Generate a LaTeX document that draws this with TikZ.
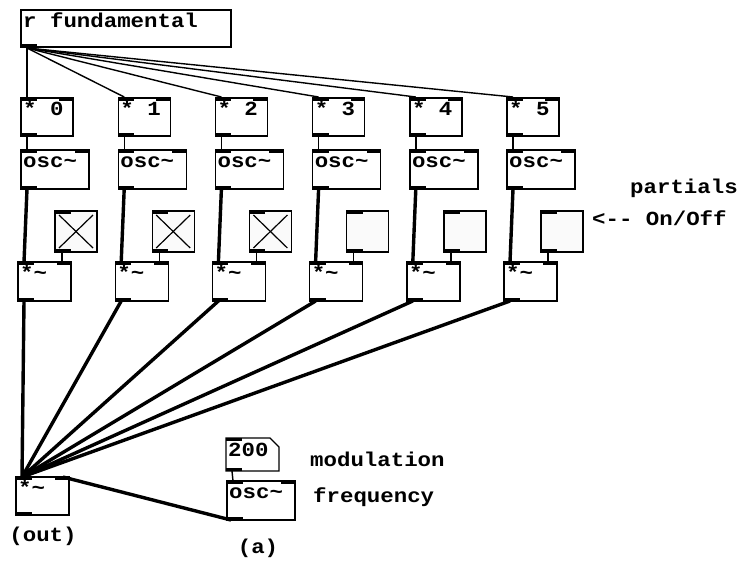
\documentclass[tikz,border=0pt]{standalone}
\usepackage{fontspec}
\newfontfamily\pdfont{Liberation Mono}[FakeStretch=1.12]
\tikzset{
  box/.style={draw, line width=1.4pt, anchor=north west, inner sep=0pt, outer sep=0pt},
  tog/.style={box, fill=black!2},
  txt/.style={anchor=base west, inner sep=0pt, font=\pdfont\bfseries\fontsize{20}{20}\selectfont},
  ctl/.style={line width=1.4pt},
  sig/.style={line width=3.4pt},
}
\newcommand\pdbox[5]{\node[box, minimum width=#4pt, minimum height=#5pt] (#1) at (#2,#3) {};}
\newcommand\pdtext[2]{\node[txt] (#1t) at ([shift={(2,17.5)}]#1.north west) {#2};}
\newcommand\inl[1]{\fill (#1.north west) rectangle ++(16,3);}
\newcommand\inr[1]{\fill (#1.north east) rectangle ++(-14,3);}
\newcommand\outl[1]{\fill (#1.south west) rectangle ++(16,-3);}
\begin{document}
\begin{tikzpicture}[x=1pt,y=-1pt]
\useasboundingbox (0,0) rectangle (743,566);
% receive
\pdbox{fund}{21}{10}{210}{37}
\pdtext{fund}{r fundamental}
\outl{fund}
\coordinate (fo) at ([shift={(6,1)}]fund.south west);
\foreach \i in {0,...,5} {
  \pgfmathsetmacro\cx{21+97.2*\i}
  \pgfmathsetmacro\tx{55+97.2*\i}
  \pgfmathsetmacro\sx{18+97.2*\i}
  % * i
  \pdbox{m\i}{\cx}{98}{52}{38}
  \pdtext{m\i}{* \i}
  \inl{m\i}\inr{m\i}\outl{m\i}
  % osc~
  \pdbox{o\i}{\cx}{150}{68}{39}
  \pdtext{o\i}{osc\textasciitilde}
  \inl{o\i}\inr{o\i}\outl{o\i}
  % toggle
  \node[tog, minimum width=42pt, minimum height=41pt] (t\i) at (\tx,211) {};
  \inl{t\i}\outl{t\i}
  % *~
  \pdbox{s\i}{\sx}{262}{53}{39}
  \pdtext{s\i}{*\textasciitilde}
  \inl{s\i}\inr{s\i}\outl{s\i}
  % connections
  \draw[ctl] (fo) -- ([shift={(6,-1)}]m\i.north west);
  \draw[ctl] ([xshift=6pt]m\i.south west) -- ([xshift=6pt]o\i.north west);
  \draw[sig] ([xshift=6pt]o\i.south west) -- ([xshift=6pt]s\i.north west);
  \draw[ctl] ([xshift=7pt]t\i.south west) -- ([xshift=7pt]t\i.south west |- s\i.north);
}
\foreach \i in {0,1,2} {
  \draw[line width=1.2pt] ([shift={(4,4)}]t\i.north west) -- ([shift={(-4,-4)}]t\i.south east);
  \draw[line width=1.2pt] ([shift={(-4,4)}]t\i.north east) -- ([shift={(4,-4)}]t\i.south west);
}
% output multiplier
\pdbox{out}{16}{477}{53}{38}
\pdtext{out}{*\textasciitilde}
\inl{out}\inr{out}\outl{out}
\node[txt, anchor=base] (outlabel) at (43,541) {(out)};
% number box 200
\node[inner sep=0pt, outer sep=0pt, anchor=north west, minimum width=53pt, minimum height=33pt] (n200) at (226,438) {};
\draw[line width=1.4pt] (n200.north west) -- ([xshift=-9pt]n200.north east) -- ([yshift=-9pt]n200.north east) -- (n200.south east) -- (n200.south west) -- cycle;
\inl{n200}\outl{n200}
\node[txt] (n200t) at ([shift={(2,18)}]n200.north west) {200};
% osc~ (a)
\pdbox{oa}{227}{481}{68}{39}
\pdtext{oa}{osc\textasciitilde}
\inl{oa}\inr{oa}\outl{oa}
\node[txt, anchor=base] (alabel) at (258,553) {(a)};
\foreach \i in {0,...,5} {
  \draw[sig] ([xshift=6pt]s\i.south west) -- ([xshift=6pt]out.north west);
}
\draw[ctl] ([xshift=6pt]n200.south west) -- ([xshift=6pt]oa.north west);
\draw[sig] ([xshift=-6pt]out.north east) -- ([xshift=4pt]oa.south west);
% comments
\node[txt] (c1) at (310,466) {modulation};
\node[txt] (c2) at (313,502) {frequency};
\node[txt] (c3) at (630,193) {partials};
\node[txt] (c4) at (592,225) {<-{}- On/Off};
\end{tikzpicture}
\end{document}
